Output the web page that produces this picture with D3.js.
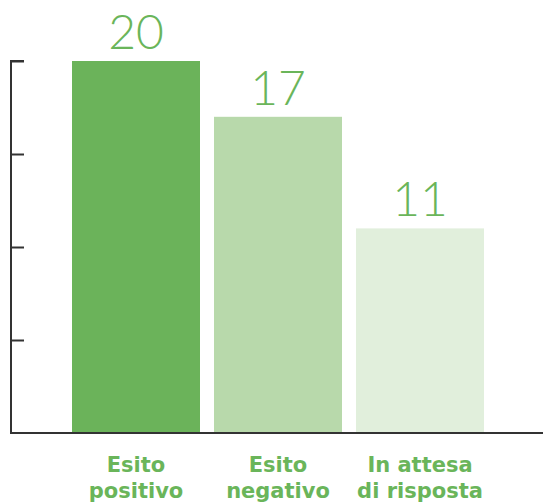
<!DOCTYPE html>
<html><head><meta charset="utf-8">
<script src="https://cdn.jsdelivr.net/npm/d3@7"></script>
<style>body{margin:0;background:#fff}</style>
</head><body>
<svg id="c" width="543" height="504"></svg>
<script>
const categories = [["Esito","positivo"],["Esito","negativo"],["In attesa","di risposta"]];
const values = [20, 17, 11];
const colors = ["#6bb35a", "#b8d9ab", "#e1efdc"];
const tickValues = [5, 10, 15, 20];

const svg = d3.select("#c");
const margin = {left: 11, top: 61, bottom: 71};
const H = 504 - margin.bottom;
const y = d3.scaleLinear().domain([0, 20]).range([H, margin.top]);
const x = d3.scaleBand().domain(d3.range(values.length)).range([72, 484]).paddingInner(14/142).paddingOuter(0);

svg.selectAll("rect.bar").data(values).join("rect")
  .attr("class","bar")
  .attr("x",(d,i)=>x(i)).attr("width",x.bandwidth())
  .attr("y",d=>y(d)).attr("height",d=>H-y(d))
  .attr("fill",(d,i)=>colors[i]);

const axis = d3.axisRight(y).tickValues(tickValues).tickSize(13).tickFormat("");
const g = svg.append("g").attr("transform",`translate(${margin.left},0)`).call(axis);
g.select(".domain").attr("stroke","#333").attr("stroke-width",2).attr("d",`M13,${margin.top}H0V${H}`);
g.selectAll(".tick line").attr("stroke","#333").attr("stroke-width",2);

svg.append("line").attr("x1",margin.left-1).attr("x2",543).attr("y1",H).attr("y2",H)
  .attr("stroke","#333").attr("stroke-width",2);

svg.selectAll("text.val").data(values).join("text")
  .attr("class","val")
  .attr("x",(d,i)=>x(i)+x.bandwidth()/2).attr("y",d=>y(d)-12)
  .attr("text-anchor","middle")
  .attr("font-family","Lato, 'DejaVu Sans', sans-serif").attr("font-weight",300)
  .attr("font-size",48).attr("fill","#6ab55a")
  .text(d=>d);

const lab = svg.selectAll("text.cat").data(categories).join("text")
  .attr("class","cat")
  .attr("text-anchor","middle")
  .attr("font-family","'DejaVu Sans', sans-serif").attr("font-weight",700)
  .attr("font-size",21).attr("fill","#6ab55a");
lab.selectAll("tspan").data((d,i)=>d.map(t=>({t,i}))).join("tspan")
  .attr("x",d=>x(d.i)+x.bandwidth()/2)
  .attr("y",(d,j)=>472+j*26)
  .text(d=>d.t);
</script>
</body></html>
